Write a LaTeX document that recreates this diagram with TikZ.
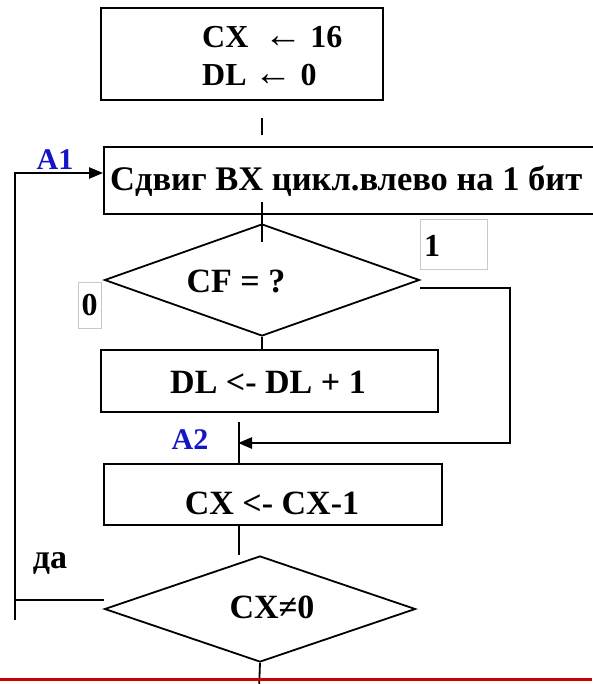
\documentclass[tikz,border=0pt]{standalone}
\usepackage{fontspec}
\setmainfont{Liberation Serif}
\usetikzlibrary{shapes.geometric,arrows.meta}
\definecolor{lblblue}{RGB}{20,20,200}
\definecolor{rulered}{RGB}{204,0,0}
\definecolor{tagedge}{RGB}{200,200,200}
\tikzset{
  line/.style={line width=1.8pt, line join=miter},
  procbox/.style={draw, line width=1.8pt, rectangle, inner sep=0pt},
  decision/.style={draw, line width=1.8pt, diamond, inner sep=0pt},
  txt/.style={inner sep=0pt, font=\bfseries},
  mark lbl/.style={inner sep=0pt, font=\bfseries\fontsize{30}{32}\selectfont, text=lblblue},
  tagbox/.style={draw=tagedge, line width=0.8pt, rectangle, inner sep=0pt},
  flowarrow/.style={-{Triangle[length=14pt,width=11pt]}}
}
\begin{document}
\begin{tikzpicture}[x=1pt,y=-1pt]
\useasboundingbox (0,0) rectangle (592,684);

% process blocks
\node[procbox, minimum width=282pt, minimum height=92pt] (init) at (242,54) {};
\node[procbox, minimum width=492pt, minimum height=67pt] (shift) at (350,180.5) {};
\node[procbox, minimum width=337pt, minimum height=62pt] (inc) at (269.5,381) {};
\node[procbox, minimum width=338pt, minimum height=61pt] (dec) at (273,494.5) {};

% decisions
\node[decision, minimum width=315pt, minimum height=112pt] (cf) at (262,280) {};
\node[decision, minimum width=311pt, minimum height=106pt] (cx) at (260,609) {};

% texts
\node[txt, anchor=west, align=left, font=\bfseries\fontsize{32}{38}\selectfont] (tinit) at (202,56) {CX\ \ {\fontsize{38}{38}\selectfont ←} 16\\DL {\fontsize{38}{38}\selectfont ←} 0};
\node[txt, anchor=west, font=\bfseries\fontsize{34.5}{36}\selectfont] (tshift) at (110,181) {Сдвиг BX цикл.влево на 1 бит};
\node[txt, font=\bfseries\fontsize{34}{36}\selectfont] (tcf) at (236,281) {CF = ?};
\node[txt, font=\bfseries\fontsize{34}{36}\selectfont] (tinc) at (268,382) {DL <- DL + 1};
\node[txt, font=\bfseries\fontsize{34}{36}\selectfont] (tdec) at (272,503) {CX <- CX-1};
\node[txt, font=\bfseries\fontsize{34}{36}\selectfont] (tcx) at (272,607) {CX≠0};

% branch tags
\node[tagbox, minimum width=23pt, minimum height=46pt] (tag0) at (89.5,305) {};
\node[txt, font=\bfseries\fontsize{32}{34}\selectfont] (t0) at (tag0) {0};
\node[tagbox, minimum width=67pt, minimum height=50pt] (tag1) at (453.5,244) {};
\node[txt, font=\bfseries\fontsize{32}{34}\selectfont, anchor=west] (t1) at (424,246) {1};

\node[mark lbl] (a1) at (55,160) {A1};
\node[mark lbl] (a2) at (190,440) {A2};
\node[txt, font=\bfseries\fontsize{34}{36}\selectfont] (yes) at (50,563) {да};

% connectors
\coordinate (s1a) at (262,118);
\coordinate (s1b) at (262,135);
\draw[line] (s1a) -- (s1b);

\coordinate (s2a) at (262,202);
\coordinate (s2b) at (262,242);
\draw[line] (s2a) -- (s2b);

\draw[line] (cf.south) -- (cf.south |- inc.north);

% carry set: bypass the increment
\coordinate (cfout) at (420,288);
\coordinate (cfturn) at (510,288);
\coordinate (a2pt) at (238,443);
\draw[line, line width=2.6pt, flowarrow] (cfout) -- (cfturn) -- (cfturn |- a2pt) -- (a2pt);

\coordinate (j2a) at (239,422);
\coordinate (j2b) at (239,463);
\draw[line] (j2a) -- (j2b);

\coordinate (j3a) at (239,525);
\coordinate (j3b) at (239,555);
\draw[line] (j3a) -- (j3b);

% loop back to A1
\coordinate (loopbot) at (15,620);
\coordinate (looptop) at (15,173);
\draw[line, line width=2.2pt, flowarrow] (loopbot) -- (looptop) -- (looptop -| shift.west);
\coordinate (yesend) at (104,600);
\draw[line] (yesend -| loopbot) -- (yesend);

\coordinate (exitend) at (259,690);
\draw[line] (cx.south) -- (exitend);

% bottom rule
\coordinate (rl) at (0,679);
\coordinate (rr) at (592,679);
\draw[rulered, line width=3pt] (rl) -- (rr);
\end{tikzpicture}
\end{document}
